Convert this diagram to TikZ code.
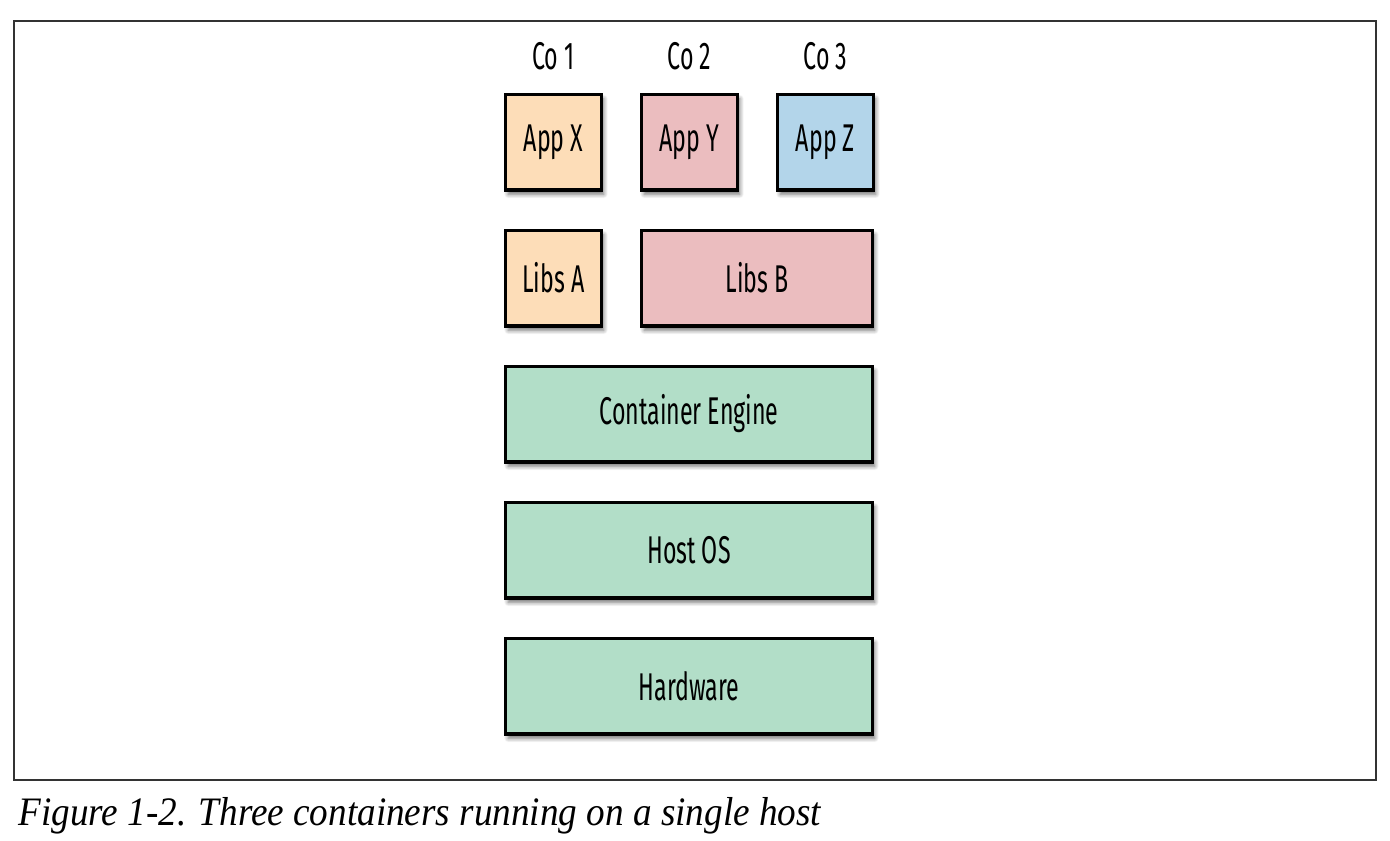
\documentclass[tikz,border=0pt]{standalone}
\usepackage{fontspec}
\setmainfont{Liberation Serif}
\newfontfamily\boxfont[FakeStretch=0.6]{Fira Sans}
\newfontfamily\captionfont[FakeStretch=0.92]{Liberation Serif}
\usetikzlibrary{positioning, shadows.blur}
\definecolor{orangebox}{HTML}{FDDDB8}
\definecolor{pinkbox}{HTML}{EBBDBF}
\definecolor{bluebox}{HTML}{B3D5EA}
\definecolor{greenbox}{HTML}{B2DEC8}
\tikzset{
  box/.style={draw=black, line width=0.065cm, minimum width=1.915cm, minimum height=1.915cm,
    inner sep=0pt, font=\boxfont\fontsize{22}{24}\selectfont,
    blur shadow={shadow xshift=0.05cm, shadow yshift=-0.09cm, shadow blur radius=0.08cm,
      shadow blur steps=8, shadow opacity=55}},
  layer/.style={box, fill=greenbox, minimum width=7.335cm},
  colabel/.style={font=\boxfont\fontsize{22}{24}\selectfont, inner sep=0pt}
}
\begin{document}
\begin{tikzpicture}[node distance=0.74cm]
  \useasboundingbox (0,0) rectangle (27.8,-16.8);
  \draw[line width=0.6pt, black!80] (0.28,-0.42) rectangle (27.52,-15.6);
  \node[box, fill=orangebox] (appx) at (11.07,-2.84) {App X};
  \node[box, fill=pinkbox] (appy) [right=of appx] {App Y};
  \node[box, fill=bluebox] (appz) [right=of appy] {App Z};
  \node[box, fill=orangebox] (libsa) [below=of appx] {Libs A};
  \node[box, fill=pinkbox, minimum width=4.615cm] (libsb) [right=of libsa] {Libs B};
  \node[layer] (engine) [below=of libsa.south west, anchor=north west] {Container Engine};
  \node[layer] (hostos) [below=of engine] {Host OS};
  \node[layer] (hardware) [below=of hostos] {Hardware};
  \node[colabel] (co1) [above=0.45cm of appx] {Co 1};
  \node[colabel] (co2) [above=0.45cm of appy] {Co 2};
  \node[colabel] (co3) [above=0.45cm of appz] {Co 3};
  \node[anchor=base west, inner sep=0pt, font=\captionfont\itshape\fontsize{23}{26}\selectfont]
    (caption) at (0.36,-16.5) {Figure 1-2. Three containers running on a single host};
\end{tikzpicture}
\end{document}
